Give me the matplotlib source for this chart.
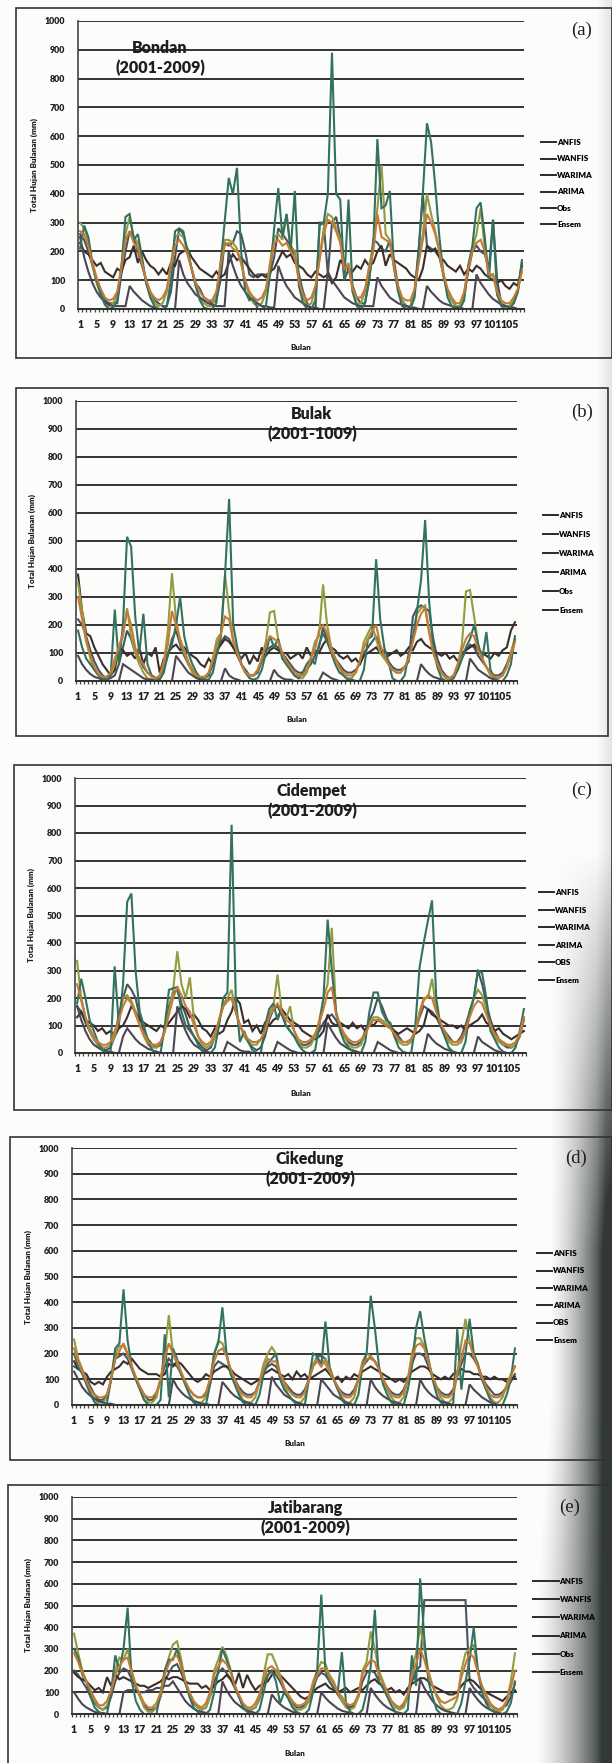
import numpy as np
import matplotlib.pyplot as plt
from matplotlib.patches import Rectangle

# ----------------------------------------------------------
# Data: monthly rainfall (mm), 108 months (2001-2009)
# ----------------------------------------------------------
months = np.arange(1, 109)
tick_months = list(range(1, 106, 4))
series_names = ["ANFIS", "WANFIS", "WARIMA", "ARIMA", "Obs", "Ensem"]

# Bondan
bondan_anfis = [260, 240, 200, 150, 100, 60, 30, 20, 20, 20, 120, 200,
                270, 250, 200, 150, 100, 60, 30, 20, 10, 10, 60, 180,
                280, 260, 200, 140, 90, 70, 40, 30, 20, 30, 100, 230,
                220, 230, 270, 260, 200, 120, 110, 120, 120, 120, 120, 180,
                280, 260, 240, 220, 180, 120, 60, 20, 0, 0, 300, 300,
                120, 300, 320, 250, 100, 140, 80, 40, 20, 20, 100, 240,
                230, 210, 200, 240, 170, 80, 30, 10, 10, 60, 210, 400,
                220, 210, 200, 180, 120, 60, 30, 10, 10, 50, 130, 200,
                220, 200, 190, 140, 310, 100, 20, 10, 10, 20, 60, 160]
bondan_wanfis = [230, 200, 190, 170, 150, 160, 130, 120, 110, 140, 130, 170,
                 180, 220, 160, 200, 170, 150, 140, 120, 140, 120, 160, 150,
                 190, 200, 210, 180, 160, 140, 130, 120, 110, 130, 110, 120,
                 160, 190, 170, 180, 160, 140, 120, 110, 120, 110, 130, 140,
                 170, 200, 180, 190, 160, 150, 140, 120, 110, 130, 120, 110,
                 120, 90, 110, 170, 150, 140, 130, 150, 140, 170, 150, 160,
                 200, 220, 150, 190, 170, 160, 150, 140, 120, 110, 100, 140,
                 220, 200, 210, 180, 170, 150, 140, 130, 150, 120, 140, 130,
                 150, 140, 120, 110, 100, 90, 100, 80, 70, 90, 80, 150]
bondan_warima = [300, 280, 240, 150, 90, 50, 20, 10, 20, 50, 150, 260,
                 320, 250, 230, 170, 90, 50, 20, 10, 20, 60, 160, 250,
                 260, 250, 210, 140, 80, 40, 20, 10, 10, 50, 160, 240,
                 240, 230, 210, 160, 90, 50, 20, 10, 20, 60, 160, 250,
                 260, 240, 330, 220, 200, 90, 40, 10, 20, 70, 180, 280,
                 330, 320, 280, 240, 130, 160, 60, 20, 20, 60, 150, 220,
                 350, 500, 260, 240, 140, 70, 30, 10, 10, 60, 170, 260,
                 400, 330, 270, 200, 110, 60, 30, 10, 10, 50, 150, 210,
                 260, 350, 210, 110, 120, 50, 20, 10, 10, 30, 60, 140]
bondan_arima = [250, 180, 130, 90, 60, 40, 25, 15, 10, 10, 10, 10,
                80, 60, 45, 30, 20, 10, 5, 0, 0, 0, 0, 0,
                170, 120, 90, 70, 50, 40, 30, 20, 15, 10, 10, 10,
                200, 150, 110, 80, 60, 40, 30, 20, 10, 10, 5, 5,
                150, 110, 80, 60, 40, 30, 20, 10, 5, 5, 0, 0,
                130, 100, 80, 60, 40, 30, 20, 15, 10, 10, 10, 10,
                110, 80, 60, 40, 30, 20, 15, 10, 5, 5, 0, 0,
                80, 60, 45, 30, 20, 15, 10, 5, 5, 0, 0, 0,
                120, 90, 70, 50, 35, 25, 15, 10, 5, 5, 0, 0]
bondan_obs = [210, 290, 250, 160, 100, 50, 15, 0, 5, 30, 140, 320,
              330, 240, 260, 180, 90, 40, 10, 0, 0, 10, 100, 270,
              280, 270, 200, 140, 80, 30, 5, 0, 0, 20, 150, 300,
              455, 400, 490, 200, 60, 30, 40, 0, 0, 10, 120, 280,
              420, 250, 330, 200, 410, 80, 20, 0, 0, 30, 290, 300,
              400, 890, 400, 380, 100, 380, 60, 10, 0, 20, 100, 220,
              590, 350, 360, 410, 150, 60, 10, 0, 0, 40, 200, 400,
              645, 580, 430, 250, 120, 40, 10, 0, 0, 30, 150, 220,
              350, 370, 250, 100, 310, 50, 10, 0, 0, 20, 60, 170]
bondan_ensem = [270, 260, 220, 160, 110, 70, 40, 30, 35, 60, 140, 240,
                270, 230, 210, 160, 100, 60, 40, 30, 40, 70, 150, 220,
                240, 220, 190, 140, 90, 60, 40, 30, 30, 60, 150, 220,
                230, 210, 200, 160, 100, 60, 40, 30, 40, 70, 150, 230,
                240, 220, 230, 200, 180, 100, 50, 30, 40, 80, 170, 260,
                310, 300, 270, 230, 140, 150, 70, 40, 40, 70, 140, 200,
                330, 250, 240, 230, 150, 80, 40, 30, 30, 70, 160, 240,
                330, 300, 260, 200, 120, 70, 40, 20, 20, 60, 140, 200,
                230, 240, 200, 120, 120, 60, 30, 20, 20, 40, 70, 130]

# Bulak
bulak_anfis = [220, 200, 160, 110, 70, 40, 20, 10, 10, 20, 60, 120,
               180, 150, 100, 80, 50, 30, 20, 10, 10, 40, 90, 150,
               180, 130, 90, 60, 40, 20, 10, 10, 20, 60, 100, 140,
               160, 150, 120, 90, 60, 40, 20, 20, 30, 70, 110, 120,
               130, 120, 100, 80, 60, 40, 30, 30, 40, 60, 90, 120,
               190, 150, 110, 80, 60, 40, 30, 30, 40, 60, 100, 120,
               140, 160, 120, 90, 70, 50, 40, 40, 50, 70, 230, 260,
               270, 260, 250, 150, 80, 40, 20, 10, 20, 40, 80, 110,
               130, 120, 90, 70, 50, 30, 20, 20, 30, 60, 100, 150]
bulak_wanfis = [380, 250, 170, 160, 120, 90, 60, 40, 20, 40, 120, 110,
                90, 100, 80, 120, 60, 100, 90, 120, 30, 80, 100, 120,
                130, 110, 120, 100, 90, 80, 60, 50, 80, 60, 110, 130,
                150, 140, 120, 100, 80, 100, 60, 90, 70, 120, 90, 110,
                120, 110, 100, 100, 80, 90, 100, 80, 120, 90, 110, 100,
                130, 150, 120, 110, 90, 80, 90, 70, 80, 60, 90, 100,
                110, 120, 100, 110, 90, 100, 110, 90, 100, 120, 110, 140,
                150, 130, 120, 110, 100, 90, 100, 80, 90, 70, 100, 110,
                120, 130, 110, 100, 90, 80, 100, 90, 110, 120, 180, 210]
bulak_warima = [350, 250, 150, 80, 40, 20, 10, 10, 20, 60, 120, 160,
                260, 160, 100, 60, 30, 10, 5, 5, 10, 60, 180, 385,
                220, 140, 100, 60, 30, 15, 10, 10, 30, 80, 150, 170,
                380, 250, 150, 100, 60, 30, 20, 20, 40, 80, 140, 245,
                250, 150, 100, 60, 40, 20, 10, 10, 30, 80, 140, 160,
                345, 200, 120, 80, 50, 20, 10, 10, 30, 70, 140, 170,
                200, 150, 100, 80, 60, 40, 30, 30, 50, 80, 150, 240,
                260, 270, 180, 100, 60, 30, 10, 5, 20, 60, 130, 320,
                325, 230, 130, 80, 50, 20, 10, 10, 20, 50, 100, 150]
bulak_arima = [90, 60, 40, 25, 15, 10, 5, 5, 0, 0, 0, 60,
               50, 40, 30, 20, 10, 5, 5, 0, 0, 0, 0, 0,
               90, 70, 50, 30, 20, 10, 5, 5, 0, 0, 0, 0,
               45, 20, 10, 5, 0, 0, 0, 0, 0, 0, 0, 0,
               40, 20, 10, 5, 5, 0, 0, 0, 0, 0, 0, 0,
               30, 20, 10, 5, 0, 0, 0, 0, 0, 0, 0, 0,
               0, 0, 0, 0, 0, 0, 0, 0, 0, 0, 0, 0,
               60, 40, 25, 15, 10, 5, 0, 0, 0, 0, 0, 0,
               80, 60, 40, 30, 20, 10, 5, 0, 0, 0, 0, 0]
bulak_obs = [180, 120, 80, 60, 40, 20, 10, 5, 20, 255, 60, 200,
             515, 480, 230, 100, 240, 60, 20, 10, 5, 30, 100, 130,
             200, 300, 160, 100, 60, 30, 10, 5, 5, 30, 100, 160,
             380, 650, 200, 120, 60, 30, 10, 5, 10, 40, 100, 160,
             120, 150, 80, 60, 40, 20, 10, 30, 60, 80, 60, 130,
             170, 140, 100, 60, 30, 20, 5, 5, 0, 0, 40, 150,
             160, 435, 220, 120, 70, 10, 0, 0, 20, 100, 150, 250,
             360, 575, 280, 120, 50, 10, 0, 0, 10, 40, 80, 120,
             150, 200, 130, 80, 175, 40, 10, 0, 0, 20, 60, 160]
bulak_ensem = [300, 220, 140, 90, 50, 25, 15, 15, 30, 80, 120, 170,
               250, 200, 120, 80, 60, 30, 15, 10, 20, 70, 130, 250,
               200, 150, 110, 70, 40, 20, 15, 15, 30, 70, 130, 170,
               230, 220, 140, 100, 60, 30, 20, 20, 40, 80, 130, 160,
               150, 140, 100, 70, 50, 30, 20, 20, 40, 80, 110, 180,
               200, 170, 110, 80, 50, 30, 20, 20, 30, 70, 120, 150,
               180, 200, 130, 90, 60, 40, 30, 30, 50, 80, 140, 200,
               240, 260, 170, 100, 60, 30, 15, 10, 20, 60, 110, 150,
               170, 160, 110, 80, 50, 25, 15, 10, 20, 50, 90, 140]

# Cidempet
cidempet_anfis = [170, 150, 110, 80, 50, 30, 20, 10, 20, 60, 140, 200,
                  250, 230, 200, 130, 80, 50, 30, 20, 30, 80, 170, 220,
                  230, 180, 140, 90, 60, 40, 20, 10, 20, 60, 120, 170,
                  190, 200, 150, 100, 70, 40, 20, 10, 20, 60, 120, 160,
                  170, 140, 100, 80, 60, 40, 30, 30, 40, 60, 80, 110,
                  130, 140, 120, 90, 60, 40, 30, 30, 40, 80, 120, 150,
                  200, 170, 130, 100, 80, 60, 40, 40, 50, 80, 130, 170,
                  160, 150, 130, 100, 80, 60, 40, 40, 60, 100, 150, 200,
                  300, 250, 180, 120, 80, 50, 30, 20, 20, 30, 60, 120]
cidempet_wanfis = [130, 150, 120, 110, 100, 80, 90, 70, 80, 60, 90, 100,
                   130, 170, 150, 120, 110, 100, 90, 80, 100, 90, 110, 130,
                   150, 170, 160, 130, 140, 120, 90, 80, 60, 90, 70, 80,
                   120, 150, 200, 180, 110, 120, 80, 100, 70, 110, 100, 120,
                   130, 160, 140, 120, 110, 100, 80, 70, 60, 50, 60, 80,
                   140, 110, 100, 110, 100, 90, 110, 90, 100, 80, 110, 100,
                   120, 110, 100, 90, 80, 70, 80, 90, 80, 70, 80, 100,
                   160, 140, 130, 120, 110, 100, 100, 90, 100, 80, 100, 110,
                   120, 140, 110, 100, 80, 90, 70, 60, 50, 60, 70, 80]
cidempet_warima = [335, 200, 130, 80, 50, 30, 20, 20, 30, 60, 120, 200,
                   210, 190, 150, 100, 60, 30, 20, 20, 40, 80, 150, 230,
                   370, 250, 200, 275, 120, 60, 30, 20, 30, 60, 120, 180,
                   200, 230, 150, 100, 60, 40, 30, 30, 50, 80, 140, 170,
                   285, 150, 120, 170, 80, 40, 20, 20, 30, 60, 120, 200,
                   250, 455, 150, 100, 60, 30, 20, 20, 30, 70, 110, 130,
                   130, 120, 110, 100, 60, 40, 30, 30, 40, 80, 150, 200,
                   200, 270, 160, 110, 70, 40, 30, 30, 40, 80, 140, 200,
                   230, 210, 160, 100, 60, 40, 30, 30, 20, 30, 60, 130]
cidempet_arima = [170, 120, 80, 50, 30, 20, 10, 5, 5, 0, 0, 60,
                  90, 70, 50, 35, 25, 15, 10, 5, 0, 0, 0, 0,
                  170, 120, 80, 50, 30, 20, 10, 5, 0, 0, 0, 0,
                  40, 30, 20, 10, 5, 5, 0, 0, 0, 0, 0, 0,
                  40, 30, 20, 10, 5, 0, 0, 0, 0, 0, 0, 0,
                  110, 80, 55, 35, 25, 15, 10, 5, 0, 0, 0, 0,
                  40, 30, 20, 10, 5, 0, 0, 0, 0, 0, 0, 0,
                  70, 50, 35, 25, 15, 10, 5, 0, 0, 0, 0, 0,
                  60, 40, 30, 20, 10, 5, 0, 0, 0, 0, 0, 0]
cidempet_obs = [180, 270, 200, 120, 80, 40, 10, 0, 0, 315, 100, 250,
                550, 580, 300, 150, 100, 40, 10, 0, 0, 100, 230, 235,
                240, 150, 100, 80, 60, 30, 5, 0, 0, 20, 100, 200,
                220, 830, 200, 40, 80, 40, 10, 0, 0, 100, 160, 180,
                120, 160, 100, 80, 60, 30, 10, 0, 0, 10, 100, 200,
                485, 300, 150, 80, 40, 20, 5, 0, 0, 40, 150, 220,
                220, 150, 120, 110, 60, 20, 5, 0, 0, 100, 310, 400,
                480, 555, 200, 100, 60, 20, 5, 0, 0, 40, 150, 200,
                300, 290, 200, 80, 50, 20, 5, 0, 0, 20, 80, 160]
cidempet_ensem = [250, 190, 130, 90, 60, 40, 30, 30, 40, 80, 120, 170,
                  200, 180, 140, 100, 70, 40, 30, 30, 40, 80, 140, 200,
                  240, 210, 170, 150, 100, 60, 40, 30, 40, 70, 120, 170,
                  190, 200, 150, 100, 70, 50, 40, 40, 50, 80, 130, 160,
                  180, 150, 120, 110, 80, 50, 40, 40, 50, 70, 110, 160,
                  220, 240, 140, 100, 70, 50, 40, 40, 50, 70, 100, 120,
                  120, 110, 100, 90, 70, 50, 40, 40, 50, 80, 140, 190,
                  210, 200, 150, 110, 80, 50, 40, 40, 50, 80, 130, 170,
                  190, 180, 140, 100, 70, 50, 40, 30, 30, 40, 70, 130]

# Cikedung
cikedung_anfis = [150, 140, 130, 100, 70, 40, 20, 20, 40, 100, 180, 190,
                  200, 180, 140, 100, 70, 40, 20, 20, 40, 100, 150, 180,
                  160, 150, 120, 90, 60, 40, 30, 30, 40, 80, 150, 170,
                  160, 150, 130, 100, 70, 50, 40, 40, 50, 90, 130, 150,
                  160, 150, 120, 90, 70, 50, 40, 40, 60, 100, 150, 190,
                  190, 180, 140, 100, 70, 50, 40, 40, 60, 100, 150, 170,
                  190, 170, 140, 100, 70, 50, 40, 40, 60, 100, 160, 200,
                  200, 190, 150, 110, 70, 50, 40, 40, 60, 110, 160, 200,
                  200, 180, 150, 110, 80, 60, 40, 40, 50, 70, 90, 120]
cikedung_wanfis = [170, 140, 130, 120, 90, 80, 90, 80, 110, 130, 140, 150,
                   170, 160, 180, 160, 140, 130, 120, 120, 120, 110, 120, 160,
                   150, 170, 160, 140, 120, 100, 90, 100, 120, 110, 130, 140,
                   150, 150, 140, 120, 110, 100, 90, 80, 90, 100, 120, 130,
                   140, 130, 120, 110, 120, 100, 130, 110, 120, 100, 110, 120,
                   130, 140, 120, 100, 110, 90, 110, 100, 120, 110, 130, 140,
                   150, 140, 130, 120, 110, 100, 90, 100, 90, 110, 130, 140,
                   150, 150, 140, 120, 110, 100, 110, 100, 120, 130, 140, 130,
                   130, 120, 120, 110, 110, 100, 110, 100, 100, 90, 100, 110]
cikedung_warima = [255, 180, 140, 90, 50, 20, 10, 10, 30, 100, 200, 230,
                   230, 200, 150, 100, 60, 20, 10, 10, 30, 100, 200, 350,
                   200, 160, 120, 80, 40, 20, 10, 10, 30, 100, 200, 250,
                   240, 200, 130, 90, 50, 20, 10, 10, 30, 90, 160, 200,
                   225, 200, 120, 80, 40, 20, 10, 10, 30, 100, 160, 180,
                   170, 160, 130, 100, 60, 30, 10, 10, 30, 100, 170, 200,
                   190, 170, 140, 100, 60, 30, 10, 10, 30, 100, 200, 260,
                   260, 230, 170, 110, 60, 30, 10, 10, 30, 120, 240, 335,
                   250, 200, 150, 100, 60, 30, 10, 10, 30, 80, 120, 150]
cikedung_arima = [130, 100, 70, 50, 35, 25, 15, 10, 5, 5, 0, 0,
                  0, 0, 0, 0, 0, 0, 0, 0, 0, 0, 0, 0,
                  100, 70, 50, 35, 25, 15, 10, 5, 5, 0, 0, 0,
                  90, 70, 50, 35, 25, 15, 10, 5, 0, 0, 0, 0,
                  110, 80, 60, 40, 30, 20, 10, 5, 0, 0, 0, 0,
                  100, 80, 60, 40, 30, 20, 10, 5, 0, 0, 0, 0,
                  100, 70, 50, 35, 25, 15, 10, 5, 0, 0, 0, 0,
                  100, 70, 50, 35, 25, 15, 10, 5, 0, 0, 0, 0,
                  80, 60, 45, 30, 20, 10, 5, 0, 0, 0, 0, 0]
cikedung_obs = [200, 150, 120, 80, 40, 10, 0, 0, 10, 100, 220, 240,
                450, 250, 150, 100, 60, 20, 0, 0, 0, 20, 275, 30,
                220, 180, 120, 80, 40, 10, 0, 0, 0, 80, 200, 240,
                380, 200, 120, 80, 40, 10, 0, 0, 0, 40, 120, 160,
                180, 200, 100, 60, 40, 20, 0, 0, 0, 100, 200, 190,
                150, 325, 150, 100, 60, 20, 0, 0, 0, 40, 150, 200,
                425, 300, 150, 80, 40, 10, 0, 0, 0, 60, 150, 300,
                365, 260, 180, 100, 40, 10, 0, 0, 0, 295, 60, 200,
                335, 200, 160, 100, 60, 20, 0, 0, 0, 40, 100, 220]
cikedung_ensem = [220, 170, 130, 90, 60, 40, 30, 30, 40, 100, 180, 210,
                  240, 200, 150, 110, 70, 40, 30, 30, 50, 100, 180, 240,
                  200, 170, 130, 90, 60, 40, 30, 30, 50, 100, 170, 210,
                  220, 190, 140, 100, 60, 40, 30, 30, 50, 90, 140, 180,
                  170, 170, 120, 90, 60, 40, 30, 30, 50, 100, 150, 170,
                  150, 180, 140, 100, 70, 40, 30, 30, 50, 100, 150, 180,
                  180, 170, 140, 100, 70, 40, 30, 30, 50, 100, 180, 230,
                  240, 220, 170, 110, 70, 40, 30, 30, 50, 130, 180, 250,
                  240, 190, 150, 110, 70, 40, 30, 30, 40, 70, 110, 150]

# Jatibarang
jatibarang_anfis = [200, 180, 150, 120, 80, 50, 30, 20, 30, 80, 150, 190,
                    210, 200, 160, 120, 80, 40, 20, 20, 30, 80, 150, 190,
                    220, 230, 190, 140, 90, 50, 30, 20, 30, 80, 150, 190,
                    210, 190, 160, 120, 80, 40, 20, 20, 30, 70, 140, 180,
                    200, 180, 150, 110, 80, 50, 30, 30, 40, 60, 120, 170,
                    190, 180, 150, 120, 90, 60, 40, 30, 40, 80, 150, 190,
                    200, 190, 150, 120, 90, 60, 40, 30, 40, 80, 150, 200,
                    220, 525, 525, 525, 525, 525, 525, 525, 525, 525, 525, 525,
                    150, 120, 100, 80, 60, 40, 30, 20, 30, 40, 80, 140]
jatibarang_wanfis = [190, 170, 160, 150, 130, 110, 120, 100, 170, 130, 180, 160,
                     170, 160, 150, 140, 130, 130, 120, 130, 140, 150, 170, 160,
                     170, 170, 160, 150, 140, 140, 140, 120, 130, 110, 130, 150,
                     160, 180, 160, 130, 190, 120, 180, 140, 110, 130, 140, 150,
                     180, 200, 180, 160, 140, 120, 100, 80, 70, 80, 100, 120,
                     130, 140, 120, 110, 100, 110, 120, 100, 110, 120, 110, 130,
                     150, 160, 140, 130, 110, 120, 100, 110, 90, 120, 140, 150,
                     165, 165, 150, 130, 120, 110, 100, 90, 90, 100, 130, 150,
                     160, 150, 130, 110, 100, 90, 80, 70, 60, 80, 100, 110]
jatibarang_warima = [370, 280, 200, 150, 100, 60, 30, 20, 40, 100, 200, 260,
                     250, 300, 200, 130, 80, 30, 10, 10, 30, 80, 200, 260,
                     320, 335, 250, 150, 100, 60, 30, 20, 30, 80, 200, 250,
                     310, 270, 200, 130, 80, 40, 20, 20, 30, 80, 180, 275,
                     275, 230, 180, 120, 80, 40, 20, 20, 30, 60, 150, 200,
                     240, 230, 180, 150, 100, 60, 30, 20, 30, 80, 200, 240,
                     380, 300, 200, 150, 100, 60, 30, 20, 30, 80, 200, 280,
                     400, 300, 200, 130, 80, 40, 20, 20, 30, 70, 200, 280,
                     300, 320, 200, 120, 80, 40, 20, 10, 20, 60, 150, 280]
jatibarang_arima = [100, 70, 45, 30, 20, 10, 5, 5, 0, 0, 0, 0,
                    100, 110, 110, 110, 100, 100, 110, 110, 120, 120, 130, 130,
                    150, 120, 90, 60, 40, 25, 15, 10, 5, 0, 0, 0,
                    150, 110, 80, 55, 40, 25, 15, 10, 5, 0, 0, 0,
                    90, 65, 45, 30, 20, 10, 5, 0, 0, 0, 0, 0,
                    100, 75, 55, 40, 25, 15, 10, 5, 0, 0, 0, 0,
                    120, 90, 65, 45, 30, 20, 10, 5, 0, 0, 0, 0,
                    160, 120, 90, 60, 40, 25, 15, 10, 5, 0, 0, 0,
                    120, 90, 65, 45, 30, 20, 10, 5, 0, 0, 0, 0]
jatibarang_obs = [300, 260, 180, 150, 80, 30, 10, 0, 0, 100, 270, 200,
                  300, 490, 150, 60, 20, 0, 0, 0, 0, 100, 200, 250,
                  250, 300, 220, 150, 80, 30, 10, 0, 0, 20, 100, 200,
                  300, 250, 200, 130, 80, 30, 10, 0, 0, 20, 100, 180,
                  200, 150, 50, 100, 70, 30, 10, 0, 0, 20, 100, 200,
                  550, 200, 150, 120, 100, 285, 50, 10, 0, 0, 20, 100,
                  220, 480, 150, 120, 80, 40, 10, 0, 0, 20, 270, 130,
                  625, 350, 150, 80, 20, 0, 0, 0, 0, 0, 50, 150,
                  250, 400, 200, 100, 50, 20, 10, 0, 0, 10, 50, 150]
jatibarang_ensem = [280, 240, 190, 150, 110, 70, 40, 40, 60, 110, 180, 220,
                    250, 260, 190, 130, 90, 50, 30, 30, 50, 100, 180, 230,
                    260, 270, 220, 150, 100, 60, 40, 30, 50, 100, 180, 220,
                    250, 230, 190, 130, 90, 50, 30, 30, 50, 90, 160, 210,
                    220, 200, 170, 120, 90, 60, 40, 40, 50, 80, 140, 180,
                    210, 210, 170, 140, 100, 80, 50, 40, 50, 90, 180, 220,
                    250, 240, 180, 140, 100, 60, 40, 30, 50, 90, 180, 230,
                    300, 250, 180, 130, 90, 60, 50, 60, 70, 80, 170, 230,
                    280, 260, 190, 130, 90, 50, 30, 20, 30, 60, 120, 200]

# ----------------------------------------------------------
# Styling
# ----------------------------------------------------------
W, H = 612, 1763
colors = ["#46545f", "#3a2e2c", "#949b42", "#4b4555", "#33725f", "#c77a35"]
ink = "#1e1e1e"
FONT = "Lato"

panels = [
    dict(title="Bondan\n(2001-2009)", tag="(a)", data=[bondan_anfis, bondan_wanfis, bondan_warima, bondan_arima, bondan_obs, bondan_ensem],
         labels=series_names, plot=(78, 524, 21, 309), box=(16, 8, 612, 358),
         title_xy=(160, 58), tag_xy=(582, 30), leg=(541, 144, 17.5), bulan_y=347, leglen=1.9),
    dict(title="Bulak\n(2001-1009)", tag="(b)", data=[bulak_anfis, bulak_wanfis, bulak_warima, bulak_arima, bulak_obs, bulak_ensem],
         labels=series_names, plot=(76, 517, 401, 681), box=(16, 388, 608, 736),
         title_xy=(312, 424), tag_xy=(582, 412), leg=(543, 517, 20), bulan_y=720, leglen=1.9),
    dict(title="Cidempet\n(2001-2009)", tag="(c)", data=[cidempet_anfis, cidempet_wanfis, cidempet_warima, cidempet_arima, cidempet_obs, cidempet_ensem],
         labels=["ANFIS", "WANFIS", "WARIMA", "ARIMA", "OBS", "Ensem"], plot=(75, 526, 778, 1053), box=(14, 765, 612, 1110),
         title_xy=(312, 801), tag_xy=(582, 790), leg=(539, 894, 18.6), bulan_y=1093, leglen=1.9),
    dict(title="Cikedung\n(2001-2009)", tag="(d)", data=[cikedung_anfis, cikedung_wanfis, cikedung_warima, cikedung_arima, cikedung_obs, cikedung_ensem],
         labels=["ANFIS", "WANFIS", "WARIMA", "ARIMA", "OBS", "Ensem"], plot=(72, 517, 1148, 1405), box=(10, 1137, 612, 1460),
         title_xy=(310, 1169), tag_xy=(576, 1158), leg=(537, 1255, 18.4), bulan_y=1443, leglen=1.9),
    dict(title="Jatibarang\n(2001-2009)", tag="(e)", data=[jatibarang_anfis, jatibarang_wanfis, jatibarang_warima, jatibarang_arima, jatibarang_obs, jatibarang_ensem],
         labels=series_names, plot=(72, 517, 1497, 1714), box=(8, 1485, 612, 1790),
         title_xy=(305, 1518), tag_xy=(570, 1507), leg=(533, 1583, 19.2), bulan_y=1753, leglen=3.2),
]


def fx(x):
    return x / W


def fy(y):
    return 1 - y / H


fig = plt.figure(figsize=(W / 100, H / 100), dpi=100)
fig.patch.set_facecolor("#fcfcfa")

for p in panels:
    x0, x1, y0, y1 = p["plot"]
    ax = fig.add_axes([fx(x0), fy(y1), (x1 - x0) / W, (y1 - y0) / H])
    ax.set_facecolor("none")
    handles = []
    for vals, lab, col in zip(p["data"], p["labels"], colors):
        h, = ax.plot(months, vals, color=col, lw=1.5, label=lab, solid_joinstyle="miter")
        handles.append(h)
    ax.set_xlim(0.5, 108.5)
    ax.set_ylim(0, 1000)
    ax.set_yticks(range(0, 1001, 100))
    ax.set_xticks(tick_months)
    ax.set_xticks(np.arange(0.5, 109, 1), minor=True)
    ax.grid(axis="y", color="#333333", lw=1.4)
    ax.set_axisbelow(True)
    for s in ["top", "right"]:
        ax.spines[s].set_visible(False)
    ax.spines["left"].set_color("#444")
    ax.spines["left"].set_linewidth(1.2)
    ax.spines["bottom"].set_color("#333")
    ax.spines["bottom"].set_linewidth(1.4)
    ax.tick_params(axis="y", length=0, pad=9, labelsize=6.4, labelcolor=ink)
    ax.tick_params(axis="x", which="major", length=0, pad=7, labelsize=7.6, labelcolor=ink)
    ax.tick_params(axis="x", which="minor", length=2.5, direction="out", color="#444", width=0.9)
    for lbl in ax.get_xticklabels() + ax.get_yticklabels():
        lbl.set_fontfamily(FONT)
        lbl.set_fontweight("heavy")
    ax.set_ylabel("Total Hujan Bulanan (mm)", fontsize=5.8, fontweight="heavy", family=FONT, color=ink, labelpad=5)

    # station name
    fig.text(fx(p["title_xy"][0]), fy(p["title_xy"][1]), p["title"], ha="center", va="center",
             fontsize=11.5, fontweight="heavy", family=FONT, color=ink, linespacing=1.3)
    fig.text(fx((x0 + x1) / 2), fy(p["bulan_y"]), "Bulan", ha="center", va="center",
             fontsize=5.8, fontweight="heavy", family=FONT, color=ink)
    fig.text(fx(p["tag_xy"][0]), fy(p["tag_xy"][1]), p["tag"], ha="center", va="center",
             fontsize=13.5, family="Liberation Serif", color=ink)

    # legend, placed by hand to the right of the plot
    lx, ly, step = p["leg"]
    fs = 5.8
    leg = fig.legend(handles=handles, labels=p["labels"], loc="upper left",
                     bbox_to_anchor=(fx(lx), fy(ly - 5)), frameon=False,
                     handlelength=p["leglen"], handletextpad=0.1, borderpad=0, borderaxespad=0,
                     labelspacing=(step / (fs * 100 / 72)) - 1.0,
                     prop=dict(family=FONT, weight="heavy", size=fs))
    for line in leg.get_lines():
        line.set_color("#2a2a2a")
        line.set_linewidth(1.4)

    bx0, by0, bx1, by1 = p["box"]
    fig.add_artist(Rectangle((fx(bx0), fy(by1)), (bx1 - bx0) / W, (by1 - by0) / H,
                             transform=fig.transFigure, fill=False, edgecolor="#333", lw=1.2))

# scanner shadow along the right edge (darker and wider towards the bottom)
xs = np.arange(W)
ys = np.arange(H)
X, Y = np.meshgrid(xs, ys)
s = np.clip((Y - 850) / 400, 0, 1)
start = 548 - 14 * np.clip((Y - 1400) / 200, 0, 1)
dark = s * np.clip((X - start) / (606 - start), 0, 1) ** 1.5 + 0.12 * np.clip((X - 596) / 16, 0, 1)
dark = np.clip(dark, 0, 0.95)
img = np.zeros((H, W, 4))
img[..., 0] = 0.15
img[..., 1] = 0.18
img[..., 2] = 0.18
img[..., 3] = dark
shade = fig.add_axes([0, 0, 1, 1])
shade.imshow(img, extent=(0, 1, 0, 1), aspect="auto", zorder=10)
shade.axis("off")

fig.savefig("out.png", dpi=100, facecolor=fig.get_facecolor())
